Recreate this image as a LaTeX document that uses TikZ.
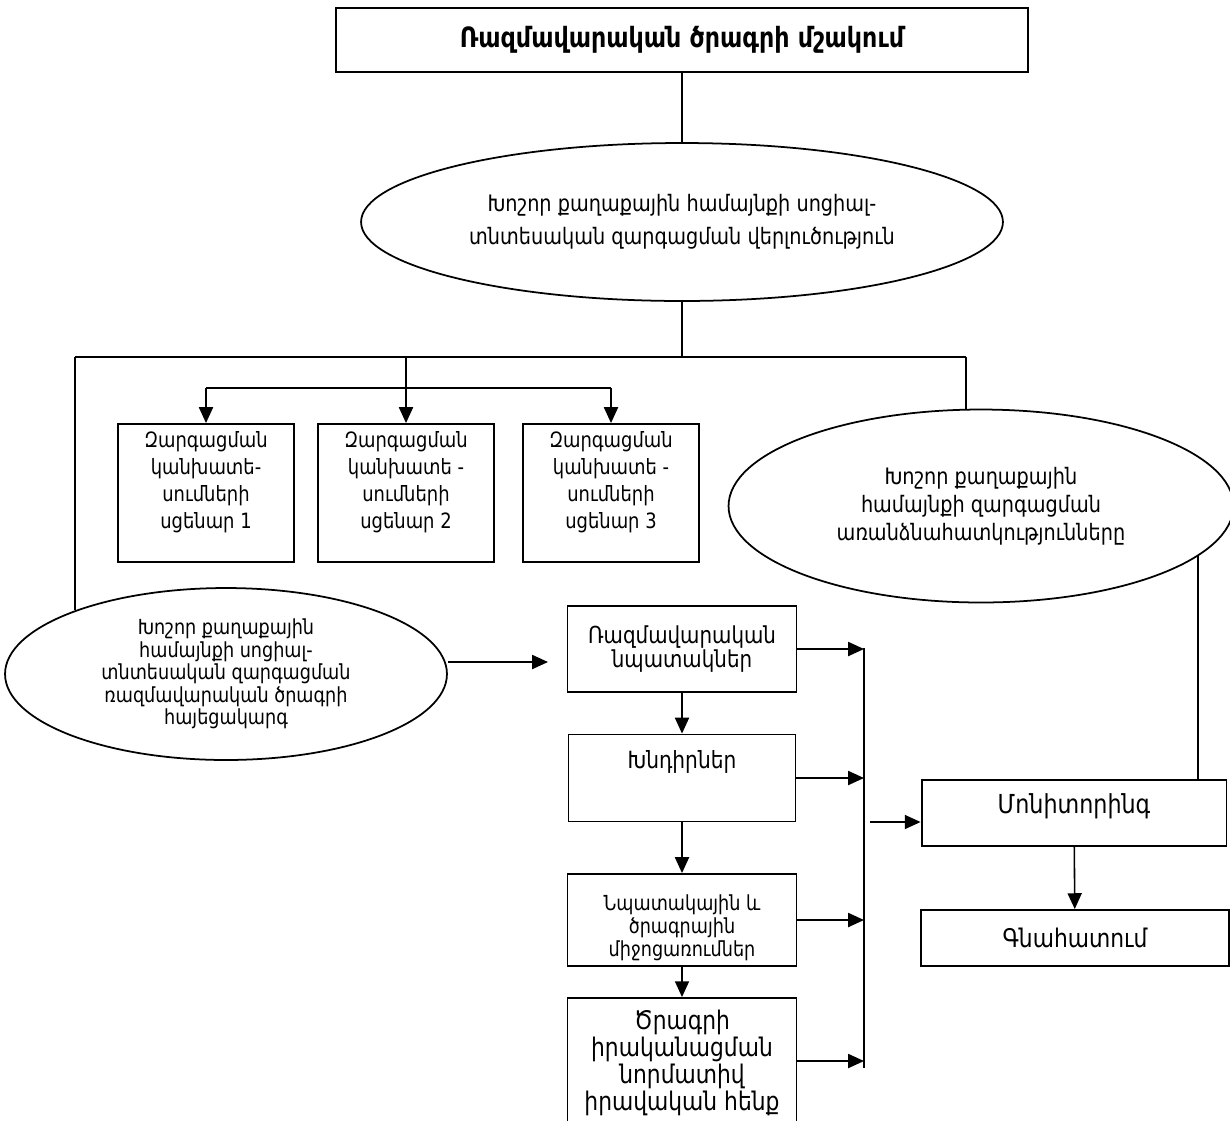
\documentclass[tikz,border=0pt]{standalone}
\usepackage{fontspec}
\setmainfont{DejaVu Sans}[FakeStretch=0.85]
\usetikzlibrary{shapes.geometric,arrows.meta,positioning}

\begin{document}
\begin{tikzpicture}[x=0.02cm,y=-0.02cm,
    box/.style={draw,line width=1.1pt,rectangle,align=center,inner sep=0pt},
    oval/.style={draw,line width=1pt,ellipse,align=center,inner sep=0pt},
    lbl/.style={align=center,inner sep=0pt},
    ln/.style={line width=0.9pt},
    arr/.style={line width=0.9pt,-{Triangle[length=9pt,width=8pt]}}]
    \def\scenfont{\fontsize{12}{15.3}\selectfont}
    \useasboundingbox (0,0) rectangle (1230,1120);
    \node[box,minimum width=13.84cm,minimum height=1.28cm,font=\fontsize{15.9}{18}\selectfont\bfseries] (title) at (682,40) {Ռազմավարական ծրագրի մշակում};
    \node[oval,minimum width=12.84cm,minimum height=3.16cm,font=\fontsize{12.9}{18.9}\selectfont] (analysis) at (682,222) {Խոշոր քաղաքային համայնքի սոցիալ-\\տնտեսական զարգացման վերլուծություն};
    \coordinate (busL) at (75,357);
    \coordinate (busR) at (966,357);
    \coordinate (busM) at (682,357);
    \coordinate (brY) at (0,388);
    \node[box,minimum width=3.52cm,minimum height=2.76cm] (scen1) at (206,493) {};
    \node[box,minimum width=3.52cm,minimum height=2.76cm] (scen2) at (406,493) {};
    \node[box,minimum width=3.52cm,minimum height=2.76cm] (scen3) at (611,493) {};
    \node[lbl,font=\scenfont,below=0.16cm of scen1.north] (scen1t) {Զարգացման\\կանխատե-\\սումների\\սցենար 1};
    \node[lbl,font=\scenfont,below=0.16cm of scen2.north] (scen2t) {Զարգացման\\կանխատե -\\սումների\\սցենար 2};
    \node[lbl,font=\scenfont,below=0.16cm of scen3.north] (scen3t) {Զարգացման\\կանխատե -\\սումների\\սցենար 3};
    \node[oval,minimum width=10.1cm,minimum height=3.86cm,font=\fontsize{12.9}{15.9}\selectfont] (feat) at (981,506) {Խոշոր քաղաքային\\համայնքի զարգացման\\առանձնահատկությունները};
    \node[oval,minimum width=8.84cm,minimum height=3.44cm,font=\fontsize{11.8}{12.8}\selectfont] (concept) at (226,674) {Խոշոր քաղաքային\\համայնքի սոցիալ-\\տնտեսական զարգացման\\ռազմավարական ծրագրի\\հայեցակարգ};
    \node[box,minimum width=4.58cm,minimum height=1.72cm,font=\fontsize{13.3}{13.8}\selectfont] (goals) at (682,649) {Ռազմավարական\\նպատակներ};
    \node[box,minimum width=4.54cm,minimum height=1.74cm] (tasks) at (682,778) {};
    \node[lbl,font=\fontsize{13.5}{14}\selectfont,below=0.34cm of tasks.north] (taskst) {Խնդիրներ};
    \node[box,minimum width=4.58cm,minimum height=1.84cm] (measures) at (682,920) {};
    \node[lbl,font=\fontsize{11.8}{13.2}\selectfont,below=0.42cm of measures.north] (measurest) {Նպատակային և\\ծրագրային\\միջոցառումներ};
    \node[box,minimum width=4.58cm,minimum height=2.52cm] (legal) at (682,1061) {};
    \node[lbl,font=\fontsize{14.6}{15.3}\selectfont,below=0.26cm of legal.north] (legalt) {Ծրագրի\\իրականացման\\նորմատիվ\\իրավական հենք};
    \node[box,minimum width=6.1cm,minimum height=1.32cm] (mon) at (1074,813) {};
    \node[lbl,font=\fontsize{14.9}{15}\selectfont,below=0.28cm of mon.north] (mont) {Մոնիտորինգ};
    \node[box,minimum width=6.16cm,minimum height=1.12cm,font=\fontsize{14.6}{15}\selectfont] (eval) at (1075,938) {Գնահատում};
    \coordinate (cTip) at (548,662);
    \coordinate (barT) at (864,648);
    \coordinate (barB) at (864,1068);
    \coordinate (mIn) at (870,822);

    \draw[ln] (title) -- (analysis);
    \draw[ln] (analysis) -- (busM);
    \draw[ln] (busL) -- (busR);
    \draw[ln] (busL) -- (busL |- concept.157.4);
    \draw[ln] (busR) -- (busR |- feat.north);
    \draw[arr] (scen2.north |- busL) -- (scen2.north);
    \draw[ln] (scen1.north |- brY) -- (scen3.north |- brY);
    \draw[arr] (scen1.north |- brY) -- (scen1.north);
    \draw[arr] (scen3.north |- brY) -- (scen3.north);
    \draw[arr] (cTip -| concept.east) -- (cTip);
    \draw[arr] (goals) -- (tasks);
    \draw[arr] (tasks) -- (measures);
    \draw[arr] (measures) -- (legal);
    \draw[ln] (barT) -- (barB);
    \foreach \n in {goals,tasks,measures,legal}
        \draw[arr] (\n.east) -- (\n.east -| barT);
    \draw[arr] (mIn) -- (mIn -| mon.west);
    \draw[ln] (feat.-13) -- (feat.-13 |- mon.north);
    \draw[arr] (mon) -- (eval);
\end{tikzpicture}
\end{document}
